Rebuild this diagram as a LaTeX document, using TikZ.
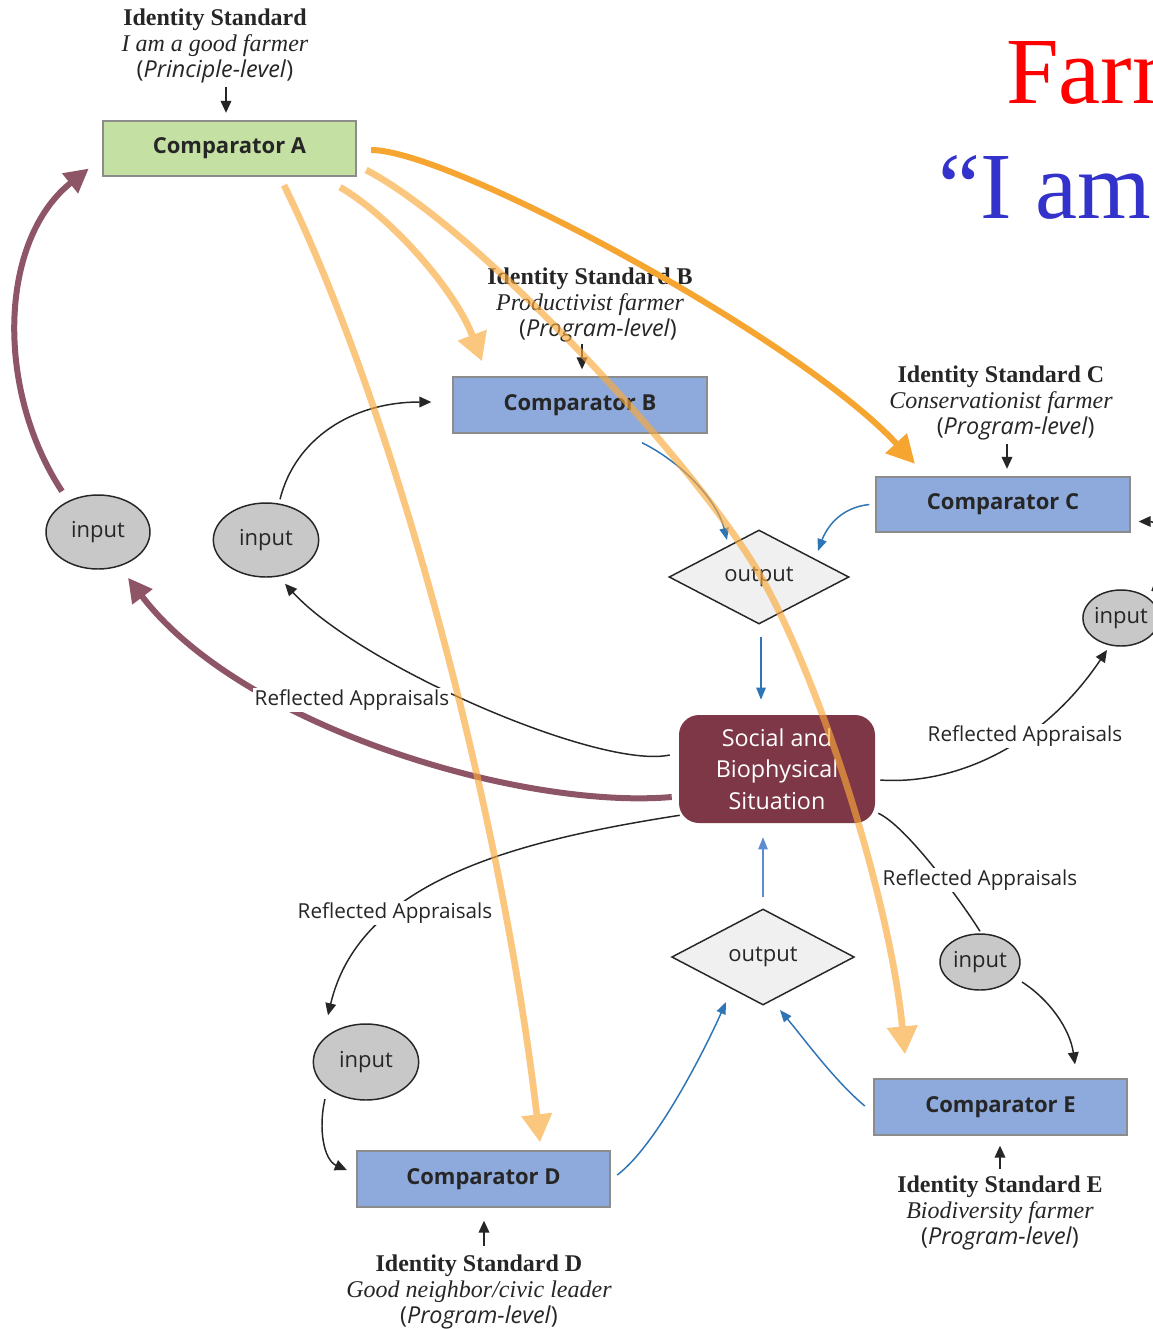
\documentclass[tikz,border=0pt]{standalone}
\usepackage{fontspec}
\setmainfont{Liberation Serif}
\setsansfont{Open Sans}
\usetikzlibrary{arrows.meta,shapes.geometric,calc}

\definecolor{compgreen}{HTML}{C5E0A3}
\definecolor{compblue}{HTML}{8EA9DB}
\definecolor{compedge}{HTML}{8C8C8C}
\definecolor{situation}{HTML}{7E3746}
\definecolor{ellfill}{HTML}{C8C8C8}
\definecolor{diafill}{HTML}{F0F0F0}
\definecolor{flowblue}{HTML}{2E75B6}
\definecolor{flowbluelight}{HTML}{5F8BD0}
\definecolor{maroonarrow}{HTML}{8E5566}
\definecolor{deeporange}{HTML}{F6A531}
\definecolor{paleorange}{HTML}{FAA93A}
\definecolor{inkgray}{HTML}{262626}
\definecolor{titlered}{HTML}{FF0000}
\definecolor{titleblue}{HTML}{3333CC}

\newcommand{\levelfont}{\sffamily\fontsize{17.5}{19.5}\selectfont}

\begin{document}
\begin{tikzpicture}[x=0.75pt,y=-0.75pt,
  comp/.style={draw=compedge,line width=1.5pt,minimum width=190pt,minimum height=41.5pt,
    inner sep=0pt,font=\sffamily\bfseries\fontsize{16.5}{19}\selectfont,text=inkgray},
  sit/.style={fill=situation,rounded corners=15pt,minimum width=147pt,minimum height=81pt,
    inner sep=0pt,align=center,text=white,font=\sffamily\fontsize{17.5}{23.6}\selectfont},
  outdia/.style={diamond,draw=inkgray,line width=1.1pt,fill=diafill,minimum width=135pt,
    minimum height=70.5pt,inner sep=0pt,font=\sffamily\fontsize{16.5}{19}\selectfont,text=inkgray},
  ellin/.style={ellipse,draw=inkgray,line width=1.1pt,fill=ellfill,inner sep=0pt,
    font=\sffamily\fontsize{16.5}{19}\selectfont,text=inkgray},
  stdtext/.style={align=center,inner sep=0pt,text=inkgray,font=\fontsize{18}{19.5}\selectfont},
  ralabel/.style={fill=white,inner sep=1.5pt,text=inkgray,font=\sffamily\fontsize{15.5}{18}\selectfont},
  blk/.style={draw=inkgray,line width=1.1pt,-{Triangle[length=9pt,width=8pt]}},
  blkline/.style={draw=inkgray,line width=1.1pt},
  blu/.style={draw=flowblue,line width=1.1pt,-{Triangle[length=9pt,width=7pt]}},
  blulight/.style={draw=flowbluelight,line width=1.1pt,-{Triangle[length=9pt,width=7pt]}},
  mar/.style={draw=maroonarrow,line width=4.5pt,-{Triangle[length=18pt,width=18pt]}},
  dorange/.style={draw=deeporange,line width=4.5pt,-{Triangle[length=21pt,width=21pt]}},
  porange/.style={draw=paleorange,line width=5pt,-{Triangle[length=21pt,width=22pt]}},
  paleband/.style={transparency group,opacity=0.65}
]
\useasboundingbox (0,0) rectangle (1153,1329);
\clip (0,0) rectangle (1153,1329);
\fill[white] (0,0) rectangle (1153,1329);

% headline
\node[anchor=base west,inner sep=0pt,text=titlered,font=\fontsize{71}{80}\selectfont] (head1) at (1006,103) {Farm};
\node[anchor=base west,inner sep=0pt,text=titleblue,font=\fontsize{71}{80}\selectfont] (head2) at (938,218) {“I am};

% comparators
\node[comp,fill=compgreen] (compA) at (229.5,148.5) {Comparator A};
\node[comp,fill=compblue] (compB) at (580,405) {Comparator B};
\node[comp,fill=compblue] (compC) at (1003,504.5) {Comparator C};
\node[comp,fill=compblue] (compD) at (483.5,1179) {Comparator D};
\node[comp,fill=compblue] (compE) at (1000.5,1107) {Comparator E};

% identity standards
\node[stdtext] (idA) at (215,46) {\textbf{Identity Standard}\\\textit{I am a good farmer}\\{\levelfont(\textit{Principle-level})}};
\node[stdtext] (idB) at (590,305) {\textbf{Identity Standard B}\\\textit{Productivist farmer}\\\hspace*{12pt}{\levelfont(\textit{Program-level})}};
\node[stdtext] (idC) at (1001,403) {\textbf{Identity Standard C}\\\textit{Conservationist farmer}\\\hspace*{22pt}{\levelfont(\textit{Program-level})}};
\node[stdtext] (idD) at (479,1292) {\textbf{Identity Standard D}\\\textit{Good neighbor/civic leader}\\{\levelfont(\textit{Program-level})}};
\node[stdtext] (idE) at (1000,1213) {\textbf{Identity Standard E}\\\textit{Biodiversity farmer}\\{\levelfont(\textit{Program-level})}};

% situation, outputs, inputs
\node[sit] (soc) at (777,769) {Social and\\Biophysical\\Situation};
\node[outdia] (dia1) at (759,577) {output};
\node[outdia,minimum width=137pt,minimum height=72pt] (dia2) at (763,957) {output};
\node[ellin,minimum width=78pt,minimum height=55.5pt] (in1) at (98,532) {input};
\node[ellin,minimum width=79pt,minimum height=55.5pt] (in2) at (266,540) {input};
\node[ellin,minimum width=57pt,minimum height=42pt] (inC) at (1121,618) {input};
\node[ellin,minimum width=60pt,minimum height=42pt] (inE) at (980,962) {input};
\node[ellin,minimum width=79pt,minimum height=57pt] (inD) at (366,1062) {input};

% standards feeding comparators
\draw[blk] ($(compA.north)+(-3.5,-33)$) -- ($(compA.north)+(-3.5,-7)$);
\draw[blk] ($(compB.north)+(2,-32)$) -- ($(compB.north)+(2,-7)$);
\draw[blk] ($(compC.north)+(4,-32)$) -- ($(compC.north)+(4,-7)$);
\draw[blk] ($(compD.south)+(0.5,38)$) -- ($(compD.south)+(0.5,13)$);
\draw[blk] ($(compE.south)+(-0.5,33)$) -- ($(compE.south)+(-0.5,10)$);

% outputs
\draw[blu] ($(compB.south)+(62,9)$) .. controls +(40,20) and +(-10,-40) .. ($(dia1.center)+(-32,-37)$);
\draw[blu] ($(compC.west)+(-6,0)$) .. controls +(-30,3) and +(8,-22) .. ($(dia1.center)+(59,-26)$);
\draw[blu] ($(dia1.south)+(2,12)$) -- ($(soc.north)+(-16,-15)$);
\draw[blulight] ($(dia2.north)+(0,-11)$) -- ($(soc.south)+(-14,14)$);
\draw[blu] ($(compD.east)+(6,-4)$) .. controls +(40,-30) and +(-20,45) .. ($(dia2.center)+(-37,45)$);
\draw[blu] ($(compE.west)+(-8,-1)$) .. controls +(-30,-25) and +(25,30) .. ($(dia2.center)+(17,53)$);

% inputs and reflected appraisals
\draw[blk] ($(in2.north)+(14,-3)$) .. controls +(15,-60) and +(-80,0) .. ($(compB.west)+(-21,-3)$);
\draw[blk] ($(soc.west)+(-9,-14)$) .. controls +(-70,15) and +(75,82) .. ($(in2.south)+(19,6)$);
\draw[blk] ($(soc.east)+(5,11)$) .. controls +(70,5) and +(-67,100) .. ($(inC.center)+(-14,32)$);
\draw[blk] ($(soc.south west)+(1,-8)$) .. controls +(-160,25) and +(32,-136) .. ($(inD.north)+(-38,-8)$);
\draw[blkline] ($(soc.south east)+(3,-10)$) .. controls +(27,12) and +(-20,-32) .. ($(inE.north)+(0,-2)$);
\draw[blk] ($(inE.center)+(42,20)$) .. controls +(28,18) and +(-5,-35) .. ($(compE.north)+(74.5,-14)$);
\draw[blk] ($(inD.center)+(-41,37)$) .. controls +(-7,30) and +(-23,-10) .. ($(compD.west)+(-9,-9)$);
\draw[blk] ($(inC.center)+(31,-27)$) .. controls +(15,-40) and +(25,0) .. ($(compC.east)+(8,17)$);

% principle-level loop
\draw[mar] ($(in1.north)+(-36,-3)$) .. controls +(-67,-102) and +(-90,71.5) .. ($(compA.west)+(-13,20)$);
\draw[mar] ($(soc.west)+(-7,28)$) .. controls +(-152,13) and +(112,148) .. ($(in1.south)+(30,8)$);

\node[ralabel] (ra1) at (352,700) {Reflected Appraisals};
\node[ralabel] (ra2) at (1025,736) {Reflected Appraisals};
\node[ralabel] (ra3) at (395,913) {Reflected Appraisals};
\node[ralabel] (ra4) at (980,880) {Reflected Appraisals};

% principle to program links
\draw[dorange] ($(compA.east)+(14,1.5)$) .. controls +(80,0) and +(-115,-125) .. ($(compC.north)+(-88,-12)$);
\begin{scope}[paleband]
\draw[porange] ($(compA.south)+(110.5,10)$) .. controls +(50,29) and +(-27,-72) .. ($(compB.north)+(-98,-15)$);
\end{scope}
\begin{scope}[paleband]
\draw[porange] ($(compA.east)+(9,21.5)$) .. controls +(115,60) and +(-60,-105) .. ($(dia1.center)+(1,-2)$)
  .. controls +(60,105) and +(-15,-155) .. ($(compE.north)+(-95.5,-24)$);
\end{scope}
\begin{scope}[paleband]
\draw[porange] ($(compA.south)+(54.5,8)$) .. controls +(106,216) and +(-40,-343) .. ($(compD.north)+(56.5,-8)$);
\end{scope}
\end{tikzpicture}
\end{document}
